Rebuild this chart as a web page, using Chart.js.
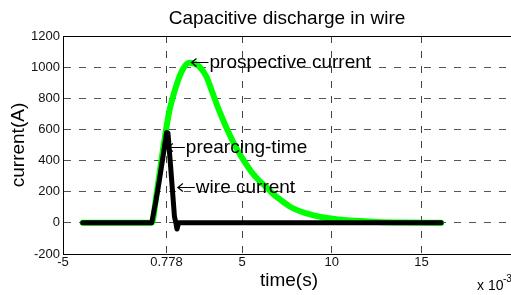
<!DOCTYPE html>
<html>
<head>
<meta charset="utf-8">
<title>Capacitive discharge in wire</title>
<script src="https://cdn.jsdelivr.net/npm/chart.js@4/dist/chart.umd.min.js"></script>
<style>
  html, body { margin: 0; padding: 0; background: #fff; }
  canvas { display: block; }
</style>
</head>
<body>
<canvas id="discharge-chart" width="511" height="295"></canvas>
<script>
  // time in ms (axis shows x 10^-3 s), current in A
  var wireTime = [-3.9, -0.05, 0.2, 0.4, 0.6, 0.78, 0.86, 1.0, 1.22, 1.3, 1.36, 1.45, 3, 8, 16.1];
  var wireCurrent = [0, 0, 150, 290, 440, 580, 575, 370, 40, 0, -40, 0, 0, 0, 0];

  var prospTime = [-3.9, -0.04, 0.2, 0.39, 0.67, 0.94, 1.32, 1.68, 2.06, 2.3, 2.61, 3.0, 3.35, 3.7, 4.09, 4.45,
    4.83, 5.2, 5.57, 6.0, 6.32, 6.68, 7.06, 7.61, 8.0, 8.54, 9.0, 9.46, 10.39, 11.3, 12.5, 14, 16.1];
  var prospCurrent = [0, 0, 170, 320, 540, 720, 880, 985, 1028, 1024, 1003, 940, 833, 725, 619, 530,
    448, 380, 319, 265, 233, 190, 155, 108, 85, 62, 48, 36, 22, 13, 6, 2, 0];

  var xTicks = [-5, 0.778, 5, 10, 15];
  var yTicks = [-200, 0, 200, 400, 600, 800, 1000, 1200];

  var labels = [
    { t: 2.17, a: 1030, text: "prospective current" },
    { t: 0.85, a: 490, text: "prearcing-time" },
    { t: 1.41, a: 233, text: "wire current" }
  ];

  var FONT = "'Liberation Sans', Arial, sans-serif";

  function points(xs, ys) {
    return xs.map(function (x, i) { return { x: x, y: ys[i] }; });
  }

  // ── text and box decorations ───────────────
  var decorations = {
    id: "decorations",
    afterDraw: function (chart) {
      var ctx = chart.ctx;
      var area = chart.chartArea;
      var xs = chart.scales.x;
      var ys = chart.scales.y;
      ctx.save();

      // top edge of the axes box
      ctx.strokeStyle = "#000";
      ctx.lineWidth = 1;
      ctx.beginPath();
      ctx.moveTo(area.left, Math.round(area.top) + 0.5);
      ctx.lineTo(area.right, Math.round(area.top) + 0.5);
      ctx.stroke();

      ctx.fillStyle = "#000";
      ctx.textBaseline = "alphabetic";

      // title
      ctx.font = "19px " + FONT;
      ctx.textAlign = "center";
      ctx.fillText("Capacitive discharge in wire", (area.left + area.right) / 2, 24);

      // x axis title
      ctx.fillText("time(s)", (area.left + area.right) / 2 + 2, 286);

      // y axis title
      ctx.save();
      ctx.translate(24, (area.top + area.bottom) / 2);
      ctx.rotate(-Math.PI / 2);
      ctx.fillText("current(A)", 0, 0);
      ctx.restore();

      // exponent note
      ctx.textAlign = "left";
      ctx.font = "14px " + FONT;
      ctx.fillText("x 10", 477, 290);
      ctx.font = "10px " + FONT;
      ctx.fillText("-3", 503, 282);

      // annotations: left arrow then text
      ctx.font = "19px " + FONT;
      ctx.lineWidth = 1.2;
      labels.forEach(function (l) {
        var px = xs.getPixelForValue(l.t);
        var py = Math.round(ys.getPixelForValue(l.a)) + 0.5;
        ctx.beginPath();
        ctx.moveTo(px + 17, py);
        ctx.lineTo(px, py);
        ctx.moveTo(px + 5, py - 4);
        ctx.lineTo(px, py);
        ctx.lineTo(px + 5, py + 4);
        ctx.stroke();
        ctx.fillText(l.text, px + 18, py + 5.5);
      });

      ctx.restore();
    }
  };

  new Chart(document.getElementById("discharge-chart"), {
    type: "line",
    data: {
      datasets: [
        {
          label: "wire current",
          data: points(wireTime, wireCurrent),
          borderColor: "#000",
          borderWidth: 5,
          borderJoinStyle: "round",
          borderCapStyle: "round",
          pointRadius: 0,
          tension: 0,
          fill: false
        },
        {
          label: "prospective current",
          data: points(prospTime, prospCurrent),
          borderColor: "#00ff00",
          borderWidth: 6,
          borderJoinStyle: "round",
          borderCapStyle: "round",
          pointRadius: 0,
          cubicInterpolationMode: "monotone",
          fill: false
        }
      ]
    },
    options: {
      responsive: false,
      animation: false,
      events: [],
      layout: { padding: { top: 36, right: 0, left: 0, bottom: 0 } },
      plugins: {
        legend: { display: false },
        title: { display: false },
        tooltip: { enabled: false }
      },
      scales: {
        x: {
          type: "linear",
          min: -5,
          max: 20,
          afterBuildTicks: function (scale) {
            scale.ticks = xTicks.map(function (v) { return { value: v }; });
          },
          afterFit: function (scale) { scale.height = 41; },
          ticks: {
            padding: 1,
            maxRotation: 0,
            autoSkip: false,
            color: "#111",
            font: { family: FONT, size: 13 },
            callback: function (v) { return String(v); }
          },
          grid: {
            drawTicks: false,
            lineWidth: 1,
            color: function (c) {
              return c.tick && c.tick.value === -5 ? "rgba(0,0,0,0)" : "#444";
            }
          },
          border: { display: true, color: "#000", width: 1, dash: [7, 8] }
        },
        y: {
          type: "linear",
          min: -200,
          max: 1200,
          afterBuildTicks: function (scale) {
            scale.ticks = yTicks.map(function (v) { return { value: v }; });
          },
          afterFit: function (scale) { scale.width = 63; },
          ticks: {
            padding: 3,
            color: "#111",
            font: { family: FONT, size: 13 },
            callback: function (v) { return String(v); }
          },
          grid: {
            drawTicks: false,
            lineWidth: 1,
            color: function (c) {
              var v = c.tick && c.tick.value;
              return v === -200 || v === 1200 ? "rgba(0,0,0,0)" : "#555";
            }
          },
          border: { display: true, color: "#000", width: 1, dash: [7, 8] }
        }
      }
    },
    plugins: [decorations]
  });
</script>
</body>
</html>
